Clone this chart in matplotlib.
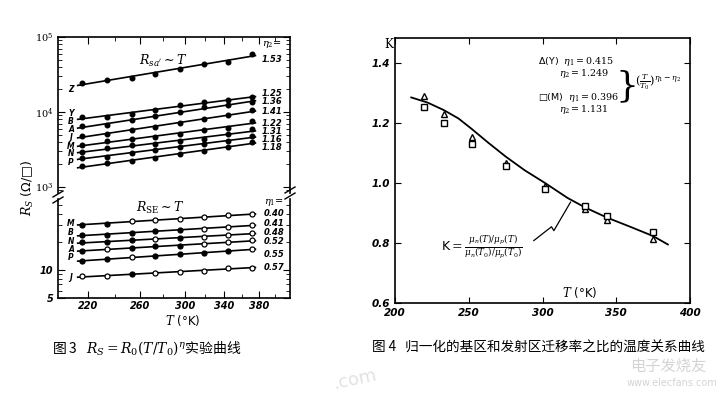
import numpy as np
import matplotlib
matplotlib.use('Agg')
import matplotlib.pyplot as plt
from matplotlib.lines import Line2D
from matplotlib.ticker import FixedLocator, FixedFormatter, NullFormatter, LogLocator

plt.rcParams['font.family'] = ['DejaVu Sans', 'Noto Sans CJK SC']
plt.rcParams['mathtext.fontset'] = 'dejavuserif'
plt.rcParams['axes.linewidth'] = 1.2

W, H = 723, 396
CJK = ['Noto Sans CJK SC', 'DejaVu Sans']

# ---- fig 3 data: R_s vs T (log-log) ----
temps_l = [216, 234, 253, 273, 295, 319, 345, 372]

rsa_names = ['Z', 'Y', 'B', 'A', 'J', 'M', 'N', 'P']
rsa_eta2 = ['1.53', '1.25', '1.36', '1.41', '1.22', '1.31', '1.16', '1.18']
rsa_Z = [24400, 26900, 28400, 32100, 37700, 43900, 47100, 59500]
rsa_Y = [8530, 8630, 9550, 10570, 12300, 13650, 14330, 15700]
rsa_B = [6490, 6620, 7790, 8790, 9940, 11590, 12560, 13490]
rsa_A = [4780, 5140, 5740, 6370, 7190, 7960, 8990, 10570]
rsa_J = [3600, 4060, 4320, 4640, 5140, 5740, 6180, 7550]
rsa_M = [2940, 3290, 3600, 3710, 4100, 4410, 5040, 5860]
rsa_N = [2470, 2550, 2880, 3120, 3460, 3710, 4100, 4780]
rsa_P = [1910, 2080, 2230, 2420, 2740, 3030, 3460, 3980]
rsa_all = [rsa_Z, rsa_Y, rsa_B, rsa_A, rsa_J, rsa_M, rsa_N, rsa_P]

rse_names = ['M', 'B', 'N', 'A', 'P', 'J']
rse_eta1 = ['0.40', '0.41', '0.48', '0.52', '0.55', '0.57']
rse_M = [30.6, 31.4, 33.5, 34.7, 34.9, 36.7, 38.6, 39.6]
rse_B = [23.8, 24.0, 25.1, 25.9, 26.7, 27.7, 28.8, 30.6]
rse_N = [19.8, 20.1, 20.7, 21.3, 22.1, 22.7, 23.8, 24.8]
rse_A = [16.1, 16.6, 17.2, 17.9, 18.2, 19.0, 19.8, 20.7]
rse_P = [12.5, 13.1, 13.6, 14.1, 14.7, 15.3, 16.0, 16.6]
rse_J = [8.6, 8.6, 9.0, 9.2, 9.4, 9.75, 10.6, 10.6]
rse_all = [rse_M, rse_B, rse_N, rse_A, rse_P, rse_J]
# 1 = filled dot, 0 = open circle
rse_filled = [
    [1, 1, 0, 0, 0, 0, 0, 0],
    [1, 1, 1, 1, 1, 0, 0, 0],
    [1, 1, 1, 0, 1, 0, 0, 0],
    [1, 0, 1, 1, 1, 0, 0, 0],
    [1, 1, 0, 1, 1, 1, 1, 0],
    [0, 0, 1, 0, 0, 0, 0, 0],
]

# ---- fig 4 data: K vs T ----
temps_r = [220, 233, 252, 275, 302, 329, 344, 375]
k_Y = [1.290, 1.229, 1.154, 1.066, 0.990, 0.912, 0.877, 0.813]
k_M = [1.252, 1.199, 1.130, 1.058, 0.980, 0.923, 0.891, 0.836]
curve_T = [211, 222, 233, 243, 252, 263, 275, 288, 302, 317, 329, 344, 360, 375, 385]
curve_K = [1.285, 1.268, 1.243, 1.215, 1.180, 1.135, 1.088, 1.042, 0.999,
           0.950, 0.918, 0.884, 0.853, 0.823, 0.795]


def box(x0, y0, x1, y1):
    return [x0 / W, 1 - y1 / H, (x1 - x0) / W, (y1 - y0) / H]


def ftext(x, y, s, **kw):
    kw.setdefault('ha', 'center')
    kw.setdefault('va', 'center')
    fig.text(x / W, 1 - y / H, s, **kw)


def fline(xs, ys, **kw):
    fig.add_artist(Line2D([x / W for x in xs], [1 - y / H for y in ys],
                          color='k', lw=kw.pop('lw', 1.0), **kw))


fig = plt.figure(figsize=(W / 100, H / 100), dpi=100)

ax_t = fig.add_axes(box(58, 37, 290, 193))
ax_b = fig.add_axes(box(58, 199, 290, 298))

t_fit = np.array([213, 376])
for vals in rsa_all:
    c = np.polyfit(np.log(temps_l), np.log(vals), 1)
    ax_t.plot(t_fit, np.exp(np.polyval(c, np.log(t_fit))), color='k', lw=1.2)
    ax_t.plot(temps_l, vals, 'o', color='k', ms=3.3, zorder=3)

for vals, fill in zip(rse_all, rse_filled):
    c = np.polyfit(np.log(temps_l), np.log(vals), 1)
    ax_b.plot(t_fit, np.exp(np.polyval(c, np.log(t_fit))), color='k', lw=1.2)
    for t, v, f in zip(temps_l, vals, fill):
        ax_b.plot(t, v, 'o', color='k', mfc='k' if f else 'white',
                  ms=3.6, mew=0.9, zorder=3)

for ax in (ax_t, ax_b):
    ax.set_xscale('log')
    ax.set_yscale('log')
    ax.set_xlim(200, 420)
    ax.xaxis.set_major_locator(FixedLocator([220, 260, 300, 340, 380]))
    ax.xaxis.set_minor_locator(FixedLocator([240, 280, 320, 360, 400]))
    ax.xaxis.set_minor_formatter(NullFormatter())
    ax.tick_params(which='both', direction='in', left=True, right=True)
    ax.tick_params(which='major', length=5)
    ax.tick_params(which='minor', length=3)

ax_t.set_ylim(833, 1e5)
ax_t.yaxis.set_major_locator(FixedLocator([1e3, 1e4, 1e5]))
ax_t.yaxis.set_major_formatter(FixedFormatter([r'$10^3$', r'$10^4$', r'$10^5$']))
ax_t.yaxis.set_minor_locator(LogLocator(base=10, subs=np.arange(2, 10), numticks=20))
ax_t.yaxis.set_minor_formatter(NullFormatter())
ax_t.tick_params(axis='x', which='both', top=True, bottom=False, labelbottom=False)
ax_t.spines['bottom'].set_visible(False)

ax_b.set_ylim(5, 57.7)
ax_b.yaxis.set_major_locator(FixedLocator([5, 10]))
ax_b.yaxis.set_major_formatter(FixedFormatter(['5', '10']))
ax_b.yaxis.set_minor_locator(FixedLocator([6, 7, 8, 9, 20, 30, 40, 50]))
ax_b.yaxis.set_minor_formatter(NullFormatter())
ax_b.xaxis.set_major_formatter(FixedFormatter(['220', '260', '300', '340', '380']))
ax_b.tick_params(axis='x', which='both', top=False, bottom=True, pad=2)
ax_b.spines['top'].set_visible(False)

for ax in (ax_t, ax_b):
    for lab in ax.get_xticklabels() + ax.get_yticklabels():
        lab.set_fontsize(7)
        lab.set_fontstyle('italic')
        lab.set_fontweight('bold')

# break marks
fline([53, 63], [197, 191])
fline([53, 63], [203, 197])
fline([285, 295], [193, 187])
fline([285, 295], [199, 193])

# letters and exponents
lt_y = [89, 113, 121, 129, 137.5, 146, 154, 162]
for name, y in zip(rsa_names, lt_y):
    ftext(71, y, name, fontsize=5.5, fontweight='bold', fontstyle='italic')
eta2_y = [59, 94, 102, 111, 123, 131, 139, 147]
ftext(262, 45, r'$\eta_2$=', fontsize=7, ha='left')
for s, y in zip(rsa_eta2, eta2_y):
    ftext(262, y, s, fontsize=6, fontstyle='italic', fontweight='bold', ha='left')

lb_y = [224, 233, 241, 249, 257.5, 277]
for name, y in zip(rse_names, lb_y):
    ftext(71, y, name, fontsize=5.5, fontweight='bold', fontstyle='italic')
eta1_y = [213, 223, 232.5, 241.5, 254.5, 267.5]
ftext(264, 203, r'$\eta_1$=', fontsize=7, ha='left')
for s, y in zip(rse_eta1, eta1_y):
    ftext(264, y, s, fontsize=6, fontstyle='italic', fontweight='bold', ha='left')

ftext(163, 61, r"$R_{sa'}\sim T$", fontsize=9)
ftext(160, 208, r"$R_{\rm SE}\sim T$", fontsize=9)
ftext(28, 188, r'$R_S$ (Ω/□)', fontsize=9, rotation=90)
ftext(183, 321, r'$T$ (°K)', fontsize=8.5)

# ---- fig 4 ----
ax_r = fig.add_axes(box(395, 38, 690, 303))
ax_r.plot(curve_T, curve_K, color='k', lw=1.3)
ax_r.plot(temps_r, k_Y, '^', color='k', mfc='white', ms=4.5, mew=1.0)
ax_r.plot(temps_r, k_M, 's', color='k', mfc='white', ms=4.2, mew=1.0)
ax_r.set_xlim(200, 400)
ax_r.set_ylim(0.6, 1.483)
ax_r.set_xticks([200, 250, 300, 350, 400])
ax_r.set_yticks([0.6, 0.8, 1.0, 1.2, 1.4])
ax_r.set_yticklabels(['0.6', '0.8', '1.0', '1.2', '1.4'])
ax_r.tick_params(which='both', direction='in', top=True, right=True, length=4)
for lab in ax_r.get_xticklabels() + ax_r.get_yticklabels():
    lab.set_fontsize(7.5)
    lab.set_fontstyle('italic')
    lab.set_fontweight('bold')

# zigzag pointer to the curve
ax_r.plot([294.1, 306.1, 307.7, 319.0], [0.808, 0.854, 0.841, 0.936], color='k', lw=0.9)

ftext(389, 45, 'K', fontsize=8.5, family='DejaVu Serif')
ftext(538, 62, r'Δ(Y)  $\eta_1=0.415$', fontsize=6.8, ha='left')
ftext(559, 74, r'$\eta_2=1.249$', fontsize=6.8, ha='left')
ftext(538, 98, r'□(M)  $\eta_1=0.396$', fontsize=6.8, ha='left')
ftext(559, 110, r'$\eta_2=1.131$', fontsize=6.8, ha='left')
ftext(627, 86, '}', fontsize=26, fontweight='ultralight', family='DejaVu Serif')
ftext(635, 82, r'$(\frac{T}{T_0})^{\eta_1-\eta_2}$', fontsize=8, ha='left')
ftext(482, 247, r'K$=\frac{\mu_n(T)/\mu_p(T)}{\mu_n(T_0)/\mu_p(T_0)}$', fontsize=9)
ftext(580, 292, r'$T$ (°K)', fontsize=8.5)

# captions
ftext(52, 348, r'图 3   $R_S=R_0(T/T_0)^{\eta}$实验曲线', fontsize=10, family=CJK, ha='left')
ftext(372, 348, '图 4   归一化的基区和发射区迁移率之比的温度关系曲线', fontsize=9.8,
      family=CJK, ha='left')

# faint watermark
ftext(668, 366, '电子发烧友', fontsize=11, family=CJK, color='#d4d4d4')
ftext(672, 383, 'www.elecfans.com', fontsize=7, color='#d4d4d4')
ftext(355, 380, '.com', fontsize=13, color='#e2e2e2', rotation=12)

fig.savefig('out.png', dpi=100)
